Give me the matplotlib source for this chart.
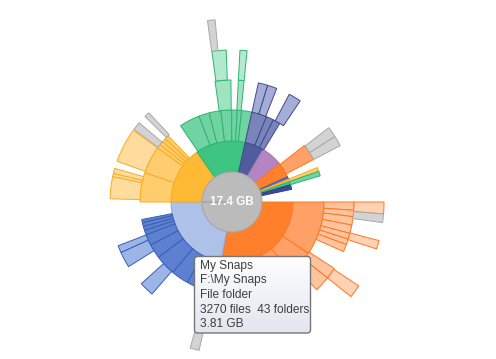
import numpy as np
import matplotlib
matplotlib.use("Agg")
import matplotlib.pyplot as plt
from matplotlib.patches import FancyBboxPatch

# ---------------- data (angles in degrees, counter-clockwise from east) ----------------
total_label = "17.4 GB"

# ring boundaries (level 0 = centre disc)
ring_radii = [30, 61, 92, 122, 152, 183]

# level 1 segments: (start, end, group)
level1 = [
    (259.4, 360.0, "orange"),
    (180.0, 259.4, "lblue"),
    (125.0, 180.0, "yellow"),
    (77.5, 125.0, "green"),
    (59.5, 77.5, "navy"),
    (39.0, 59.5, "purple"),
    (24.5, 39.0, "orange"),
    (22.0, 24.5, "blue"),
    (19.5, 22.0, "yellow"),
    (16.5, 19.5, "green"),
    (12.0, 16.5, "navy_d"),
]

level2 = [
    # orange
    (326.0, 360.0, "orange"), (310.0, 326.0, "orange"), (280.0, 310.0, "orange"),
    # my snaps
    (191.0, 193.0, "blue"), (193.0, 195.5, "blue"), (195.5, 198.0, "blue"),
    (198.0, 201.0, "blue"), (201.0, 208.0, "blue"), (208.0, 217.0, "blue"),
    (217.0, 230.0, "blue"), (230.0, 241.0, "blue"), (241.0, 252.0, "blue"),
    # yellow
    (134.0, 136.5, "yellow"), (136.5, 139.0, "yellow"), (139.0, 141.5, "yellow"),
    (141.5, 144.0, "yellow"), (144.0, 161.5, "yellow"), (161.5, 180.0, "yellow"),
    # green
    (111.0, 124.0, "green"), (104.4, 111.0, "green"), (97.0, 104.4, "green"),
    (90.2, 97.0, "green"), (86.7, 90.2, "green"), (84.0, 86.7, "green"),
    (77.5, 84.0, "green"),
    # navy
    (68.0, 77.5, "navy"), (63.3, 68.0, "navy"), (58.7, 63.3, "navy"),
    # thin slices
    (27.5, 38.0, "orange"),
    (19.5, 22.0, "yellow"),
    (16.5, 19.5, "green"),
]

level3 = [
    # orange
    (356.1, 360.0, "orange"), (353.1, 356.1, "orange"), (349.1, 353.1, "orange"),
    (345.1, 349.1, "orange"), (342.3, 345.1, "orange"), (339.6, 342.3, "orange"),
    (336.0, 339.6, "orange"), (321.5, 327.0, "orange"), (314.0, 321.5, "orange"),
    # my snaps
    (201.0, 204.5, "blue"), (204.5, 212.0, "blue"), (222.0, 229.0, "blue"),
    (254.0, 257.5, "blue"),
    # yellow
    (133.0, 135.5, "gray"), (139.5, 143.5, "gray"), (144.0, 160.5, "yellow"),
    (164.0, 166.5, "yellow"), (166.5, 168.0, "yellow"), (168.0, 178.5, "yellow"),
    # green
    (90.5, 98.0, "green"), (84.3, 87.0, "green"),
    # navy
    (73.0, 77.5, "navy"), (68.5, 73.0, "navy"), (56.0, 62.0, "navy"),
    # orange thin slice
    (27.5, 32.5, "gray"), (32.5, 37.5, "gray"),
]

level4 = [
    (355.5, 360.0, "orange"), (352.2, 355.5, "gray"), (342.0, 345.3, "orange"),
    (321.5, 326.5, "orange"),
    (254.0, 257.5, "gray"),
    (92.2, 97.6, "green"), (84.3, 87.0, "green"),
]

level5 = [
    (95.3, 97.7, "gray"),
]

# tooltip texts
tooltip_lines = ["My Snaps", "F:\\My Snaps", "File folder",
                 "3270 files  43 folders", "3.81 GB"]

# ---------------- styling ----------------
palette = {
    "orange": (["#FF7F2A", "#FFA066", "#FFC39D", "#FFD2B4"], "#FF7722"),
    "lblue":  (["#AEC1E8"], "#93A9DA"),
    "blue":   (["#4D72C6", "#5D81D0", "#9CB4E6", "#9CB4E6"], "#3A60B6"),
    "yellow": (["#FFBA35", "#FFCC6E", "#FFDC9E", "#FFDC9E"], "#F9AC1E"),
    "green":  (["#3CC480", "#70D4A2", "#A0E3C2", "#B3EACF"], "#2DB470"),
    "navy":   (["#4F5D9F", "#7A84BA", "#A5ADD6", "#A5ADD6"], "#3E4B8D"),
    "navy_d": (["#3B4B98"], "#2F3D86"),
    "purple": (["#B585C2"], "#A474B2"),
    "gray":   (["#D3D3D3"] * 5, "#A8A8A8"),
}

W, H = 496, 359
cx, cy = 232, 202
RMAX = 200

fig = plt.figure(figsize=(W / 100, H / 100), dpi=100)
fig.patch.set_facecolor("white")

ax = fig.add_axes([(cx - RMAX) / W, (H - cy - RMAX) / H, 2 * RMAX / W, 2 * RMAX / H],
                  projection="polar")
ax.set_rlim(0, RMAX)
ax.set_axis_off()
ax.patch.set_alpha(0)

levels = [level1, level2, level3, level4, level5]
for li, segs in enumerate(levels):
    starts = np.radians([s[0] for s in segs])
    widths = np.radians([s[1] - s[0] for s in segs])
    faces = []
    edges = []
    for s in segs:
        fills, edge = palette[s[2]]
        faces.append(fills[min(li, len(fills) - 1)])
        edges.append(edge)
    ax.bar(starts, ring_radii[li + 1] - ring_radii[li], width=widths,
           bottom=ring_radii[li], align="edge", color=faces, edgecolor=edges,
           linewidth=0.7)

# centre disc
ax.bar(0, ring_radii[0], width=2 * np.pi, bottom=0, color="#BBBBBB",
       edgecolor="#A9A9A9", linewidth=0.8)
ax.text(0, 0, total_label, ha="center", va="center", color="white",
        fontsize=8.5, fontweight="bold", family=["Liberation Sans", "DejaVu Sans"])

# ---------------- tooltip overlay ----------------
ov = fig.add_axes([0, 0, 1, 1])
ov.set_xlim(0, W)
ov.set_ylim(H, 0)
ov.set_axis_off()
ov.patch.set_alpha(0)

bx, by, bw, bh = 194.5, 256.5, 116, 76.5
box = FancyBboxPatch((bx, by), bw, bh, boxstyle="round,pad=0,rounding_size=3",
                     facecolor="none", edgecolor="#767676", linewidth=1.0, zorder=3)
grad = np.linspace(0, 1, 64).reshape(-1, 1)
top = np.array([1.0, 1.0, 1.0])
bot = np.array([0.89, 0.90, 0.94])
img = top[None, None, :] * (1 - grad[..., None]) + bot[None, None, :] * grad[..., None]
im = ov.imshow(img, extent=(bx, bx + bw, by + bh, by), aspect="auto", zorder=2,
               interpolation="bilinear")
clip = FancyBboxPatch((bx, by), bw, bh, boxstyle="round,pad=0,rounding_size=3",
                      transform=ov.transData, facecolor="none", edgecolor="none")
ov.add_patch(clip)
im.set_clip_path(clip)
ov.add_patch(box)
ov.set_xlim(0, W)
ov.set_ylim(H, 0)

line_y0, line_dy = 265.5, 14.7
for i, t in enumerate(tooltip_lines):
    ov.text(200, line_y0 + i * line_dy, t, ha="left", va="center", fontsize=8.6,
            color="#3E3E3E", family=["Liberation Sans", "DejaVu Sans"], zorder=4)

fig.savefig("out.png", dpi=100, facecolor="white")
